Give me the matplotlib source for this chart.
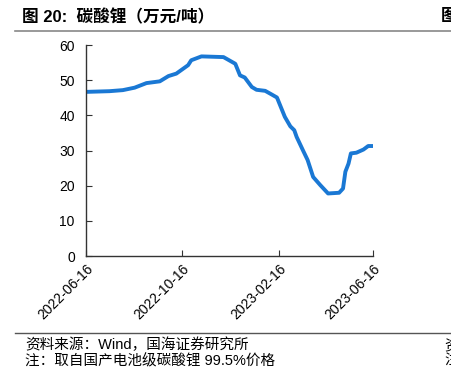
import matplotlib
matplotlib.use("Agg")
import matplotlib.pyplot as plt
import matplotlib.dates as mdates
import pandas as pd

plt.rcParams["font.family"] = ["Liberation Sans", "Noto Sans CJK SC", "DejaVu Sans"]

# Data (万元/吨)
dates = [
    "2022-06-16", "2022-07-16", "2022-08-02", "2022-08-17", "2022-09-01",
    "2022-09-18", "2022-09-29", "2022-10-09", "2022-10-24", "2022-10-28",
    "2022-11-10", "2022-12-08", "2022-12-23", "2022-12-29", "2023-01-04",
    "2023-01-13", "2023-01-19", "2023-01-30", "2023-02-07", "2023-02-14",
    "2023-02-18", "2023-02-24", "2023-03-03", "2023-03-08", "2023-03-11",
    "2023-03-19", "2023-03-25", "2023-04-01", "2023-04-10", "2023-04-20",
    "2023-05-04", "2023-05-09", "2023-05-12", "2023-05-16", "2023-05-19",
    "2023-05-26", "2023-06-04", "2023-06-10", "2023-06-16",
]
price = [
    46.7, 46.9, 47.2, 47.9, 49.2,
    49.7, 51.2, 51.9, 54.3, 55.7,
    56.8, 56.6, 54.7, 51.4, 50.8,
    48.1, 47.3, 47.0, 46.0, 45.1,
    42.9, 39.6, 36.9, 35.8, 33.9,
    30.1, 27.3, 22.5, 20.2, 17.8,
    18.0, 19.2, 24.0, 26.3, 29.2,
    29.4, 30.3, 31.3, 31.3,
]
x_ticks = ["2022-06-16", "2022-10-16", "2023-02-16", "2023-06-16"]
y_ticks = [0, 10, 20, 30, 40, 50, 60]

x = pd.to_datetime(dates)

fig = plt.figure(figsize=(4.52, 3.70), dpi=100)
ax = fig.add_axes([0.190, 0.308, 0.635, 0.570])

ax.plot(x, price, color="#1a78d4", linewidth=2.8, solid_joinstyle="round")

ax.set_xlim(pd.Timestamp(x_ticks[0]), pd.Timestamp(x_ticks[-1]))
ax.set_ylim(0, 60)
ax.set_yticks(y_ticks)
ax.set_xticks(pd.to_datetime(x_ticks))
ax.xaxis.set_major_formatter(mdates.DateFormatter("%Y-%m-%d"))
for lab in ax.get_xticklabels():
    lab.set_rotation(45)
    lab.set_ha("right")
    lab.set_rotation_mode("anchor")

for side in ["top", "right"]:
    ax.spines[side].set_visible(False)
for side in ["left", "bottom"]:
    ax.spines[side].set_color("#333333")
    ax.spines[side].set_linewidth(1.0)
ax.tick_params(axis="both", direction="in", length=4, color="#333333",
               labelsize=10, labelcolor="black")
ax.tick_params(axis="y", pad=8)
ax.tick_params(axis="x", pad=4)

# Header and footer (the pieces at the right edge belong to a neighbouring
# chart and are cut off in the reference as well)
fig.text(22 / 452, 1 - 17 / 370, "图 20:  碳酸锂（万元/吨）", fontsize=12,
         fontweight="bold", va="center", ha="left")
fig.text(441 / 452, 1 - 17 / 370, "图", fontsize=12, fontweight="bold",
         va="center", ha="left")
fig.add_artist(plt.Line2D([15 / 452, 1], [1 - 31 / 370] * 2,
                          color="#888888", linewidth=1.2))
fig.add_artist(plt.Line2D([15 / 452, 1], [1 - 333 / 370] * 2,
                          color="#555555", linewidth=1.0))
fig.text(25 / 452, 1 - 345 / 370, "资料来源：Wind，国海证券研究所", fontsize=10.5,
         va="center", ha="left")
fig.text(25 / 452, 1 - 361 / 370, "注：取自国产电池级碳酸锂 99.5%价格", fontsize=10.5,
         va="center", ha="left")
fig.text(444 / 452, 1 - 345 / 370, "资", fontsize=10.5, va="center", ha="left")
fig.text(444 / 452, 1 - 361 / 370, "注", fontsize=10.5, va="center", ha="left")

fig.savefig("out.png", dpi=100)
